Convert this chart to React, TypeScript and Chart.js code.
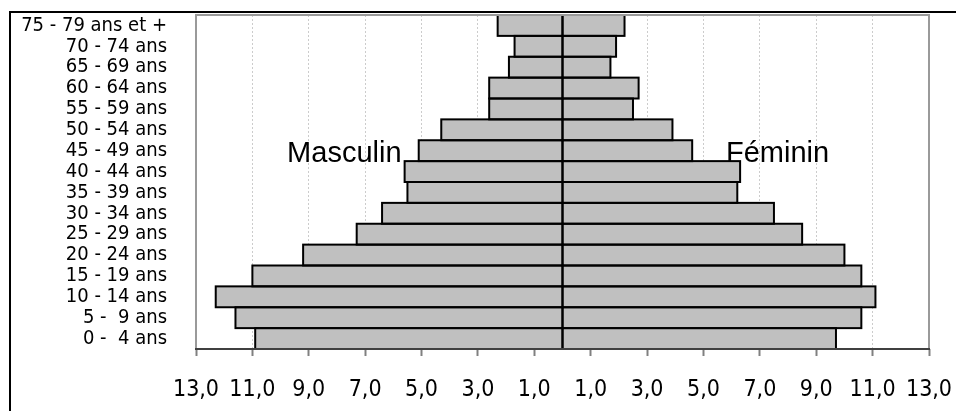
import React, { useEffect, useRef } from "react";
import { Chart, registerables } from "chart.js";

Chart.register(...registerables);

const ageGroups = [
  "0 -  4 ans",
  "5 -  9 ans",
  "10 - 14 ans",
  "15 - 19 ans",
  "20 - 24 ans",
  "25 - 29 ans",
  "30 - 34 ans",
  "35 - 39 ans",
  "40 - 44 ans",
  "45 - 49 ans",
  "50 - 54 ans",
  "55 - 59 ans",
  "60 - 64 ans",
  "65 - 69 ans",
  "70 - 74 ans",
  "75 - 79 ans et +",
];

const masculin = [10.9, 11.6, 12.3, 11.0, 9.2, 7.3, 6.4, 5.5, 5.6, 5.1, 4.3, 2.6, 2.6, 1.9, 1.7, 2.3];
const feminin = [9.7, 10.6, 11.1, 10.6, 10.0, 8.5, 7.5, 6.2, 6.3, 4.6, 3.9, 2.5, 2.7, 1.7, 1.9, 2.2];

const xTicks = [-13, -11, -9, -7, -5, -3, -1, 1, 3, 5, 7, 9, 11, 13];

const seriesNames = ["Masculin", "Féminin"];

const LABEL_FONT = "'DejaVu Sans Condensed', 'DejaVu Sans', sans-serif";

const framePlugin = {
  id: "frame",
  beforeDraw(chart: any) {
    const ctx = chart.ctx;
    ctx.save();
    ctx.fillStyle = "#ffffff";
    ctx.fillRect(0, 0, chart.width, chart.height);
    ctx.strokeStyle = "#000000";
    ctx.lineWidth = 2;
    ctx.strokeRect(10, 12, chart.width + 20, chart.height + 20);
    ctx.restore();
  },
  afterDatasetsDraw(chart: any) {
    const ctx = chart.ctx;
    ctx.save();
    // bar outlines
    ctx.strokeStyle = "#000000";
    ctx.lineWidth = 2;
    chart.data.datasets.forEach((_: any, di: number) => {
      const meta = chart.getDatasetMeta(di);
      meta.data.forEach((bar: any) => {
        const x0 = Math.min(bar.x, bar.base);
        const x1 = Math.max(bar.x, bar.base);
        const y0 = bar.y - bar.height / 2;
        ctx.strokeRect(x0, y0, x1 - x0, bar.height);
      });
    });
    // plot frame
    const a = chart.chartArea;
    ctx.strokeStyle = "#9a9a9a";
    ctx.lineWidth = 2;
    ctx.beginPath();
    ctx.moveTo(a.left, a.bottom);
    ctx.lineTo(a.left, a.top);
    ctx.lineTo(a.right, a.top);
    ctx.lineTo(a.right, a.bottom);
    ctx.stroke();
    ctx.strokeStyle = "#404040";
    ctx.lineWidth = 2;
    ctx.beginPath();
    ctx.moveTo(a.left - 1, a.bottom);
    ctx.lineTo(a.right + 1, a.bottom);
    ctx.stroke();
    // series names
    const xs = chart.scales.x;
    const ys = chart.scales.y;
    const baseY = (ys.getPixelForValue(9) + ys.getPixelForValue(8)) / 2 + 1;
    ctx.fillStyle = "#000000";
    ctx.font = "29px 'Liberation Sans', Arial, sans-serif";
    ctx.textBaseline = "alphabetic";
    ctx.textAlign = "right";
    ctx.fillText(seriesNames[0], xs.getPixelForValue(-5.71), baseY);
    ctx.textAlign = "left";
    ctx.fillText(seriesNames[1], xs.getPixelForValue(5.8), baseY);
    ctx.restore();
  },
};

export default function App() {
  const ref = useRef<HTMLCanvasElement | null>(null);

  useEffect(() => {
    if (!ref.current) return;
    const chart = new Chart(ref.current, {
      type: "bar",
      data: {
        labels: ageGroups,
        datasets: [
          {
            label: seriesNames[0],
            data: masculin.map((v) => -v),
            backgroundColor: "#c0c0c0",
            borderWidth: 0,
            barPercentage: 1,
            categoryPercentage: 1,
          },
          {
            label: seriesNames[1],
            data: feminin,
            backgroundColor: "#c0c0c0",
            borderWidth: 0,
            barPercentage: 1,
            categoryPercentage: 1,
          },
        ],
      },
      options: {
        indexAxis: "y",
        responsive: false,
        animation: false,
        devicePixelRatio: 1,
        layout: { autoPadding: false, padding: { left: 0, right: 27, top: 15, bottom: 0 } },
        plugins: {
          legend: { display: false },
          tooltip: { enabled: false },
          title: { display: false },
        },
        scales: {
          x: {
            type: "linear",
            stacked: true,
            min: -13,
            max: 13,
            afterBuildTicks: (scale: any) => {
              scale.ticks = xTicks.map((v) => ({ value: v }));
            },
            afterFit: (scale: any) => {
              scale.height = 62;
              scale.paddingLeft = 0;
              scale.paddingRight = 0;
              scale.paddingTop = 0;
              scale.paddingBottom = 0;
            },
            grid: {
              display: true,
              color: "#cccccc",
              lineWidth: 1,
              drawTicks: true,
              tickLength: 7,
              tickColor: "#808080",
              tickBorderDash: [],
              tickWidth: 2,
            } as any,
            border: { display: false, dash: [2, 2] } as any,
            ticks: {
              color: "#000000",
              padding: 20,
              maxRotation: 0,
              autoSkip: false,
              font: { family: LABEL_FONT, size: 23 },
              callback: (v: any) => Math.abs(Number(v)).toFixed(1).replace(".", ","),
            },
          },
          y: {
            type: "category",
            stacked: true,
            reverse: true,
            afterFit: (scale: any) => {
              scale.width = 196;
              scale.paddingLeft = 0;
              scale.paddingRight = 0;
              scale.paddingTop = 0;
              scale.paddingBottom = 0;
            },
            grid: { display: false, drawTicks: false },
            border: { display: false },
            ticks: {
              color: "#000000",
              padding: 29,
              autoSkip: false,
              font: { family: LABEL_FONT, size: 20 },
            },
          },
        },
      },
      plugins: [framePlugin],
    } as any);
    return () => chart.destroy();
  }, []);

  return (
    <div style={{ position: "fixed", left: 0, top: 0, width: 956, height: 411, background: "#fff" }}>
      <canvas ref={ref} width={956} height={411} style={{ display: "block" }} />
    </div>
  );
}
